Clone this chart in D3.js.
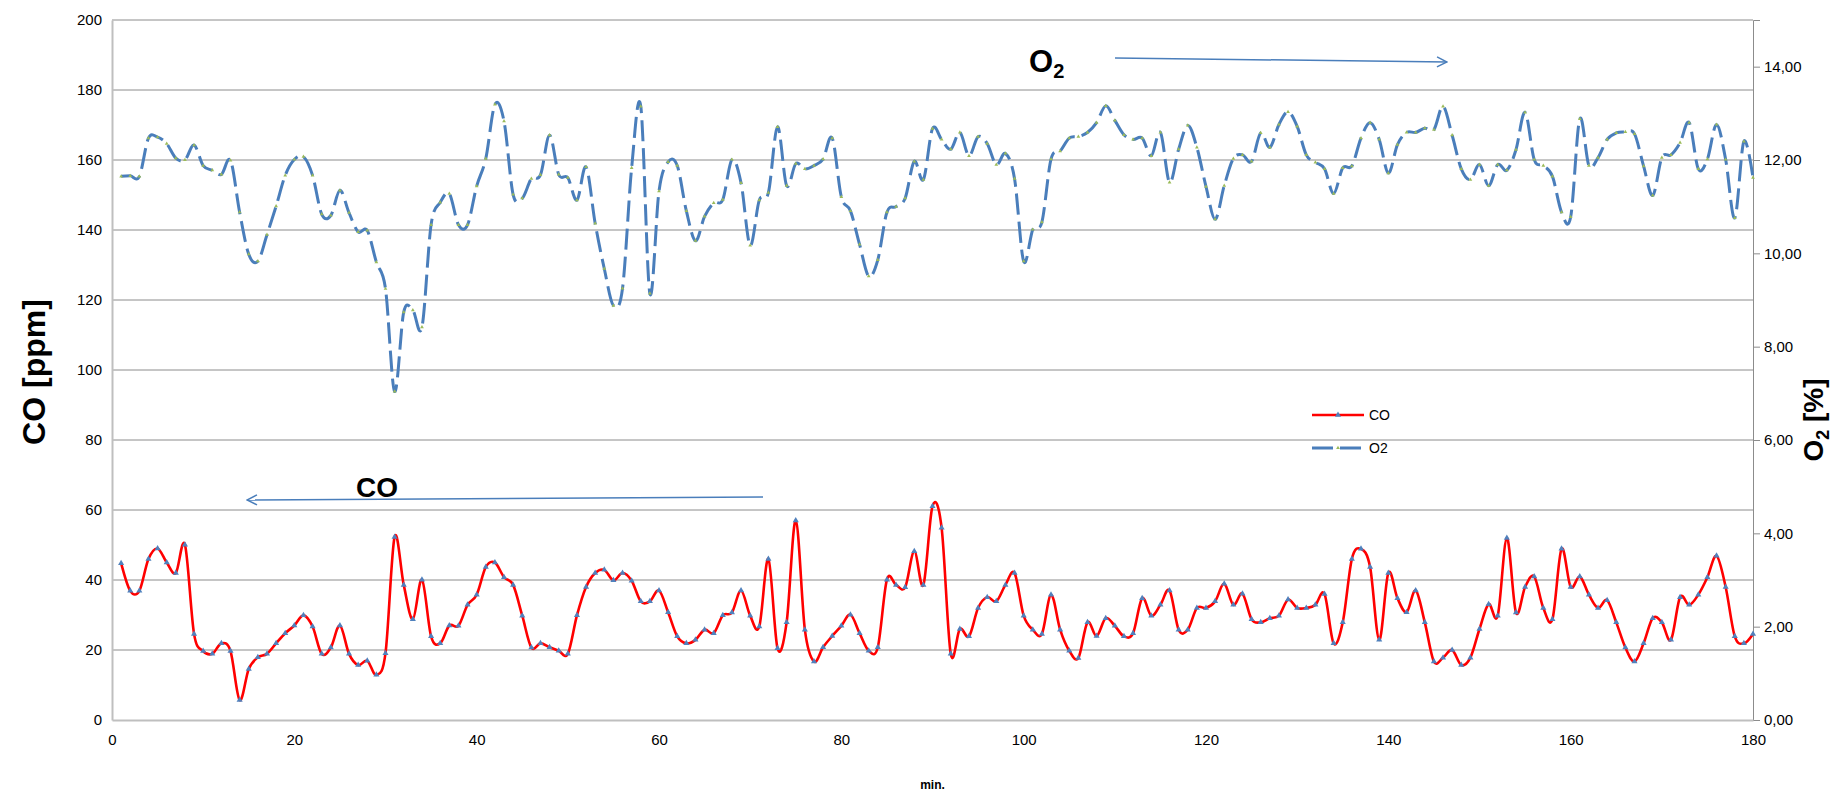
<!DOCTYPE html>
<html>
<head>
<meta charset="utf-8">
<script src="https://cdn.jsdelivr.net/npm/d3@7"></script>
<style>
  body { margin: 0; background: #fff; }
  text { font-family: "Liberation Sans", Arial, sans-serif; fill: #000; }
</style>
</head>
<body>
<div id="chart"></div>
<script>
// Données : minutes 1..180, CO en ppm, O2 en %
const minutes = d3.range(1, 181);

const coValues = [
  44.8, 36.9, 36.9, 46.0, 49.0, 45.0, 42.0, 50.1, 24.6, 19.7,
  18.9, 21.9, 19.7, 5.7, 14.6, 17.9, 18.9, 21.9, 24.8, 27.0,
  29.9, 26.7, 18.9, 20.7, 27.0, 18.9, 15.7, 16.9, 12.9, 19.1,
  52.3, 38.6, 28.8, 40.1, 23.9, 21.9, 27.0, 26.9, 32.9, 35.8,
  43.7, 45.0, 40.8, 38.6, 29.8, 20.7, 21.9, 20.8, 19.8, 18.9,
  29.9, 38.0, 42.0, 42.9, 39.9, 42.0, 39.8, 33.9, 33.9, 37.0,
  30.8, 23.9, 21.9, 22.9, 25.8, 24.8, 29.9, 30.7, 37.0, 29.8,
  26.7, 46.0, 20.5, 27.9, 57.0, 25.8, 16.7, 20.8, 24.0, 26.9,
  30.1, 24.8, 19.8, 20.8, 40.1, 38.6, 37.9, 48.2, 38.6, 61.1,
  54.9, 18.9, 26.0, 23.9, 32.0, 35.1, 33.9, 38.6, 42.0, 29.8,
  25.8, 24.6, 35.8, 25.8, 19.8, 17.7, 27.9, 24.0, 29.1, 26.9,
  23.9, 24.8, 34.8, 29.8, 32.9, 37.0, 25.8, 25.8, 32.0, 32.0,
  33.9, 38.9, 32.9, 36.1, 28.8, 27.9, 29.1, 29.8, 34.4, 32.0,
  32.0, 32.9, 36.0, 21.9, 27.9, 46.0, 48.9, 43.7, 22.9, 42.0,
  34.8, 30.8, 37.0, 27.9, 16.7, 17.8, 20.0, 15.7, 17.8, 26.0,
  33.1, 29.8, 52.0, 30.7, 38.0, 41.0, 32.0, 28.8, 48.9, 38.0,
  41.0, 35.8, 32.0, 34.2, 27.9, 20.7, 16.7, 21.9, 29.1, 27.9,
  22.9, 35.1, 32.9, 35.8, 40.8, 46.9, 38.0, 23.9, 21.9, 24.6
];

const o2Values = [
  11.65, 11.66, 11.65, 12.47, 12.49, 12.35, 12.04, 12.00, 12.32, 11.88,
  11.78, 11.69, 11.99, 10.88, 9.98, 9.83, 10.40, 11.01, 11.67, 12.01,
  12.07, 11.67, 10.84, 10.81, 11.35, 10.87, 10.46, 10.49, 9.81, 9.24,
  7.04, 8.74, 8.78, 8.42, 10.61, 11.09, 11.28, 10.61, 10.61, 11.44,
  12.03, 13.19, 12.83, 11.26, 11.18, 11.60, 11.68, 12.53, 11.69, 11.62,
  11.14, 11.85, 10.64, 9.67, 8.88, 9.25, 11.83, 13.15, 9.14, 11.33,
  11.96, 11.88, 10.91, 10.27, 10.79, 11.08, 11.15, 12.01, 11.51, 10.17,
  11.14, 11.30, 12.71, 11.45, 11.92, 11.81, 11.88, 12.02, 12.47, 11.21,
  10.91, 10.19, 9.51, 9.86, 10.88, 11.00, 11.18, 11.97, 11.58, 12.67,
  12.44, 12.23, 12.59, 12.09, 12.50, 12.35, 11.90, 12.14, 11.60, 9.83,
  10.51, 10.67, 12.02, 12.19, 12.47, 12.50, 12.59, 12.80, 13.16, 12.85,
  12.54, 12.44, 12.47, 12.09, 12.59, 11.52, 12.23, 12.74, 12.27, 11.43,
  10.73, 11.45, 12.03, 12.11, 11.97, 12.58, 12.27, 12.76, 13.03, 12.72,
  12.11, 11.95, 11.81, 11.28, 11.83, 11.87, 12.47, 12.80, 12.44, 11.72,
  12.33, 12.59, 12.59, 12.68, 12.65, 13.15, 12.53, 11.81, 11.58, 11.90,
  11.45, 11.90, 11.78, 12.22, 13.02, 12.01, 11.88, 11.65, 10.88, 10.78,
  12.88, 11.88, 12.05, 12.44, 12.58, 12.60, 12.56, 11.87, 11.24, 12.05,
  12.11, 12.37, 12.80, 11.81, 12.02, 12.76, 12.01, 10.76, 12.40, 11.62
];

const xTicks = d3.range(0, 181, 20);
const coTicks = d3.range(0, 201, 20);
const o2Ticks = d3.range(0, 15, 2);

// Dimensions
const width = 1834;
const height = 798;
const margin = { top: 20, right: 81, bottom: 78, left: 112 };

const svg = d3.select("#chart")
    .append("svg")
    .attr("width", width)
    .attr("height", height);

// Echelles
const x = d3.scaleLinear().domain([0, 180]).range([margin.left, width - margin.right]);
const yCO = d3.scaleLinear().domain([0, 200]).range([height - margin.bottom, margin.top]);
const yO2 = d3.scaleLinear().domain([0, 15]).range([height - margin.bottom, margin.top]);

// Grille horizontale
svg.append("g")
    .selectAll("line")
    .data(coTicks.filter(d => d > 0))
    .enter().append("line")
    .attr("x1", x(0))
    .attr("x2", x(180))
    .attr("y1", d => yCO(d))
    .attr("y2", d => yCO(d))
    .attr("stroke", "#8c8c8c")
    .attr("stroke-width", 1);

// Axe gauche (CO)
const axisLeft = svg.append("g")
    .attr("transform", `translate(${x(0)},0)`)
    .call(d3.axisLeft(yCO).tickValues(coTicks).tickSize(0).tickPadding(10));
axisLeft.select(".domain").attr("stroke", "#bfbfbf").attr("stroke-width", 2);
axisLeft.selectAll("text").attr("font-size", "15px");

// Axe droit (O2)
const axisRight = svg.append("g")
    .attr("transform", `translate(${x(180)},0)`)
    .call(d3.axisRight(yO2).tickValues(o2Ticks).tickSize(7).tickPadding(4)
        .tickFormat(d => d.toFixed(2).replace(".", ",")));
axisRight.select(".domain").attr("stroke", "#8c8c8c");
axisRight.selectAll(".tick line").attr("stroke", "#8c8c8c");
axisRight.selectAll("text").attr("font-size", "15px");

// Axe bas (minutes)
const axisBottom = svg.append("g")
    .attr("transform", `translate(0,${yCO(0)})`)
    .call(d3.axisBottom(x).tickValues(xTicks).tickSize(0).tickPadding(14));
axisBottom.select(".domain").attr("stroke", "#bfbfbf").attr("stroke-width", 2);
axisBottom.selectAll("text").attr("font-size", "15px");

// Titres des axes
svg.append("text")
    .attr("transform", `translate(45, ${yCO(100) + 2}) rotate(-90)`)
    .attr("text-anchor", "middle")
    .attr("font-size", "32px")
    .attr("font-weight", "bold")
    .text("CO [ppm]");

const o2Title = svg.append("text")
    .attr("transform", "translate(1823, 420) rotate(-90)")
    .attr("text-anchor", "middle")
    .attr("font-size", "28px")
    .attr("font-weight", "bold");
o2Title.append("tspan").text("O");
o2Title.append("tspan").attr("font-size", "18px").attr("dy", 6).text("2");
o2Title.append("tspan").attr("dy", -6).text(" [%]");

svg.append("text")
    .attr("x", x(90))
    .attr("y", 789)
    .attr("text-anchor", "middle")
    .attr("font-size", "12px")
    .attr("font-weight", "bold")
    .text("min.");

// Courbes lissées
const curve = d3.curveCardinal.tension(0);

const lineCO = d3.line()
    .x((d, i) => x(minutes[i]))
    .y(d => yCO(d))
    .curve(curve);

const lineO2 = d3.line()
    .x((d, i) => x(minutes[i]))
    .y(d => yO2(d))
    .curve(curve);

svg.append("path")
    .datum(o2Values)
    .attr("d", lineO2)
    .attr("fill", "none")
    .attr("stroke", "#4a7ebb")
    .attr("stroke-width", 3)
    .attr("stroke-dasharray", "21,7");

svg.append("g")
    .selectAll("path")
    .data(o2Values)
    .enter().append("path")
    .attr("d", d3.symbol(d3.symbolTriangle).size(6))
    .attr("transform", (d, i) => `translate(${x(minutes[i])},${yO2(d)})`)
    .attr("fill", "#9bbb59");

svg.append("path")
    .datum(coValues)
    .attr("d", lineCO)
    .attr("fill", "none")
    .attr("stroke", "#ff0000")
    .attr("stroke-width", 2.6);

svg.append("g")
    .selectAll("path")
    .data(coValues)
    .enter().append("path")
    .attr("d", d3.symbol(d3.symbolTriangle).size(16))
    .attr("transform", (d, i) => `translate(${x(minutes[i])},${yCO(d)})`)
    .attr("fill", "#4f81bd");

// Légende
const legend = svg.append("g").attr("transform", "translate(1312, 415)");
legend.append("line")
    .attr("x1", 0).attr("x2", 52).attr("y1", 0).attr("y2", 0)
    .attr("stroke", "#ff0000").attr("stroke-width", 2.6);
legend.append("path")
    .attr("d", d3.symbol(d3.symbolTriangle).size(16))
    .attr("transform", "translate(26,0)")
    .attr("fill", "#4f81bd");
legend.append("text").attr("x", 57).attr("y", 5).attr("font-size", "14px").text("CO");

legend.append("line")
    .attr("x1", 0).attr("x2", 52).attr("y1", 33).attr("y2", 33)
    .attr("stroke", "#4a7ebb").attr("stroke-width", 3)
    .attr("stroke-dasharray", "21,7");
legend.append("path")
    .attr("d", d3.symbol(d3.symbolTriangle).size(6))
    .attr("transform", "translate(26,33)")
    .attr("fill", "#9bbb59");
legend.append("text").attr("x", 57).attr("y", 38).attr("font-size", "14px").text("O2");

// Flèches d'annotation
svg.append("defs").append("marker")
    .attr("id", "arrow")
    .attr("viewBox", "0 0 12 12")
    .attr("refX", 11).attr("refY", 6)
    .attr("markerWidth", 12).attr("markerHeight", 12)
    .attr("markerUnits", "userSpaceOnUse")
    .attr("orient", "auto")
    .append("path")
    .attr("d", "M1,1 L11,6 L1,11")
    .attr("fill", "none")
    .attr("stroke", "#4a7ebb")
    .attr("stroke-width", 1.5);

svg.append("line")
    .attr("x1", 1115).attr("y1", 58).attr("x2", 1447).attr("y2", 62)
    .attr("stroke", "#4a7ebb").attr("stroke-width", 1.5)
    .attr("marker-end", "url(#arrow)");

svg.append("line")
    .attr("x1", 763).attr("y1", 497).attr("x2", 247).attr("y2", 500)
    .attr("stroke", "#4a7ebb").attr("stroke-width", 1.5)
    .attr("marker-end", "url(#arrow)");

const o2Label = svg.append("text")
    .attr("x", 1029).attr("y", 72)
    .attr("font-size", "31px")
    .attr("font-weight", "bold");
o2Label.append("tspan").text("O");
o2Label.append("tspan").attr("font-size", "20px").attr("dy", 6).text("2");

svg.append("text")
    .attr("x", 356).attr("y", 497)
    .attr("font-size", "28px")
    .attr("font-weight", "bold")
    .text("CO");
</script>
</body>
</html>
